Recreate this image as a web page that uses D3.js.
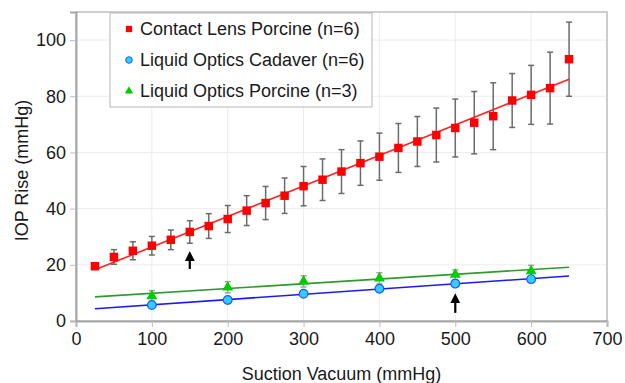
<!DOCTYPE html>
<html>
<head>
<meta charset="utf-8">
<script src="https://cdn.jsdelivr.net/npm/d3@7"></script>
<style>
  body { margin: 0; background: #fff; }
  text { font-family: "Liberation Sans", Arial, sans-serif; fill: #1a1a1a; }
</style>
</head>
<body>
<svg id="chart" width="625" height="383"></svg>
<script>
// Contact lens porcine: every 25 mmHg
var lensX = [25, 50, 75, 100, 125, 150, 175, 200, 225, 250, 275, 300, 325,
             350, 375, 400, 425, 450, 475, 500, 525, 550, 575, 600, 625, 650];
var lensY = [19.5, 22.8, 25.0, 26.8, 28.9, 31.7, 33.8, 36.3, 39.3, 42.0, 44.6, 48.0, 50.3,
             53.2, 56.2, 58.5, 61.6, 63.9, 66.2, 68.7, 70.6, 72.9, 78.5, 80.5, 82.9, 93.2];
var lensSD = [1.0, 2.6, 3.2, 3.3, 3.5, 4.0, 4.4, 4.8, 5.3, 5.9, 6.3, 7.0, 7.4,
              7.8, 7.9, 8.4, 8.7, 8.9, 9.6, 10.3, 11.1, 11.9, 9.6, 10.5, 12.8, 13.2];

// Liquid optics: every 100 mmHg
var liquidX = [100, 200, 300, 400, 500, 600];
var cadaverY = [5.7, 7.5, 9.7, 11.5, 13.3, 14.9];
var cadaverSD = [0.6, 0.6, 0.6, 0.6, 0.6, 0.6];
var porcineY = [8.9, 12.0, 14.1, 15.2, 16.5, 17.8];
var porcineSD = [1.9, 2.0, 2.0, 2.0, 1.7, 2.0];

var seriesNames = ["Contact Lens Porcine (n=6)", "Liquid Optics Cadaver (n=6)", "Liquid Optics Porcine (n=3)"];
var xTicks = [0, 100, 200, 300, 400, 500, 600, 700];
var yTicks = [0, 20, 40, 60, 80, 100];
var fitRange = [25, 650];
// arrows: [x, from y, to y]
var arrows = [[150, 18.5, 24.2], [500, 2.9, 9.2]];

var margin = { top: 12, right: 18, bottom: 62, left: 76 };
var width = 625 - margin.left - margin.right;
var height = 383 - margin.top - margin.bottom;

var x = d3.scaleLinear().domain([0, 700]).range([0, width]);
var y = d3.scaleLinear().domain([0, 110]).range([height, 0]);

var svg = d3.select("#chart");
svg.append("defs").append("marker")
    .attr("id", "head")
    .attr("viewBox", "0 0 10 10")
    .attr("refX", 5).attr("refY", 5)
    .attr("markerWidth", 4.5).attr("markerHeight", 4.5)
    .attr("orient", "auto")
    .append("path").attr("d", "M0,0 L10,5 L0,10 z").attr("fill", "#000");

var chart = svg.append("g")
    .attr("transform", "translate(" + margin.left + "," + margin.top + ")");

// gridlines
chart.append("g").selectAll("line").data(yTicks.filter(function (d) { return d > 0; }))
    .enter().append("line")
    .attr("x1", 0).attr("x2", width)
    .attr("y1", function (d) { return y(d); }).attr("y2", function (d) { return y(d); })
    .attr("stroke", "#ececec");
chart.append("g").selectAll("line").data(xTicks.filter(function (d) { return d > 0 && d < 700; }))
    .enter().append("line")
    .attr("y1", 0).attr("y2", height)
    .attr("x1", function (d) { return x(d); }).attr("x2", function (d) { return x(d); })
    .attr("stroke", "#ececec");

// plot frame
chart.append("rect")
    .attr("width", width).attr("height", height)
    .attr("fill", "none").attr("stroke", "#bdbdbd").attr("stroke-width", 1.5);

var xAxis = d3.axisBottom(x).tickValues(xTicks).tickSize(6).tickPadding(5);
var yAxis = d3.axisLeft(y).tickValues(yTicks).tickSize(6).tickPadding(4);

var gx = chart.append("g").attr("transform", "translate(0," + height + ")").call(xAxis);
var gy = chart.append("g").call(yAxis);
[gx, gy].forEach(function (g) {
    g.select(".domain").attr("stroke", "#a8a8a8").attr("stroke-width", 2);
    g.selectAll(".tick line").attr("stroke", "#bdbdbd");
    g.selectAll(".tick text").style("font-size", "18px")
        .style("font-family", "Liberation Sans, Arial, sans-serif").attr("fill", "#1a1a1a");
});

// axis titles
chart.append("text")
    .attr("x", width / 2).attr("y", height + 59)
    .attr("text-anchor", "middle").style("font-size", "18px")
    .text("Suction Vacuum (mmHg)");
chart.append("text")
    .attr("transform", "translate(-48," + (height / 2 + 4) + ") rotate(-90)")
    .attr("text-anchor", "middle").style("font-size", "18px")
    .text("IOP Rise (mmHg)");

// least squares fit drawn over fitRange
function fitLine(xs, ys) {
    var mx = d3.mean(xs), my = d3.mean(ys);
    var sxy = d3.sum(xs, function (d, i) { return (d - mx) * (ys[i] - my); });
    var sxx = d3.sum(xs, function (d) { return (d - mx) * (d - mx); });
    var b = sxy / sxx, a = my - b * mx;
    return fitRange.map(function (v) { return [v, a + b * v]; });
}
var line = d3.line().x(function (d) { return x(d[0]); }).y(function (d) { return y(d[1]); });

function errorBars(xs, ys, sd, color) {
    var g = chart.append("g").attr("stroke", color).attr("stroke-width", 1.5);
    xs.forEach(function (xv, i) {
        var top = y(ys[i] + sd[i]), bot = y(ys[i] - sd[i]), cx = x(xv);
        g.append("line").attr("x1", cx).attr("x2", cx).attr("y1", top).attr("y2", bot);
        g.append("line").attr("x1", cx - 3).attr("x2", cx + 3).attr("y1", top).attr("y2", top);
        g.append("line").attr("x1", cx - 3).attr("x2", cx + 3).attr("y1", bot).attr("y2", bot);
    });
}

errorBars(lensX, lensY, lensSD, "#6b6b6b");
errorBars(liquidX, porcineY, porcineSD, "#a0a0a0");
errorBars(liquidX, cadaverY, cadaverSD, "#a0a0a0");

chart.append("path").datum(fitLine(lensX, lensY))
    .attr("d", line).attr("fill", "none").attr("stroke", "#ff2020").attr("stroke-width", 1.6);
chart.append("path").datum(fitLine(liquidX, porcineY))
    .attr("d", line).attr("fill", "none").attr("stroke", "#2e9a2e").attr("stroke-width", 1.6);
chart.append("path").datum(fitLine(liquidX, cadaverY))
    .attr("d", line).attr("fill", "none").attr("stroke", "#1a1aff").attr("stroke-width", 1.6);

var square = d3.symbol().type(d3.symbolSquare).size(72);
var circle = d3.symbol().type(d3.symbolCircle).size(60);
var triangle = d3.symbol().type(d3.symbolTriangle).size(52);

chart.append("g").selectAll("path").data(lensX).enter().append("path")
    .attr("d", square)
    .attr("transform", function (d, i) { return "translate(" + x(d) + "," + y(lensY[i]) + ")"; })
    .attr("fill", "#ff0000");
chart.append("g").selectAll("path").data(liquidX).enter().append("path")
    .attr("d", circle)
    .attr("transform", function (d, i) { return "translate(" + x(d) + "," + y(cadaverY[i]) + ")"; })
    .attr("fill", "#33ccff").attr("stroke", "#1a5cff").attr("stroke-width", 1.2);
chart.append("g").selectAll("path").data(liquidX).enter().append("path")
    .attr("d", triangle)
    .attr("transform", function (d, i) { return "translate(" + x(d) + "," + y(porcineY[i]) + ")"; })
    .attr("fill", "#00cc00");

// arrows
chart.append("g").selectAll("line").data(arrows).enter().append("line")
    .attr("x1", function (d) { return x(d[0]); }).attr("x2", function (d) { return x(d[0]); })
    .attr("y1", function (d) { return y(d[1]); }).attr("y2", function (d) { return y(d[2]) + 3; })
    .attr("stroke", "#000").attr("stroke-width", 2.2)
    .attr("marker-end", "url(#head)");

// legend
var legend = svg.append("g").attr("transform", "translate(110,13)");
legend.append("rect").attr("width", 262).attr("height", 94)
    .attr("fill", "#fff").attr("stroke", "#b5b5b5");
var markers = [square.size(40), circle.size(34), triangle.size(30)];
var fills = ["#ff0000", "#33ccff", "#00cc00"];
seriesNames.forEach(function (name, i) {
    var yy = 16 + i * 31;
    legend.append("path").attr("d", markers[i]())
        .attr("transform", "translate(19," + yy + ")")
        .attr("fill", fills[i])
        .attr("stroke", i === 1 ? "#1a5cff" : "none");
    legend.append("text").attr("x", 30).attr("y", yy + 6)
        .style("font-size", "18px").text(name);
});
</script>
</body>
</html>
